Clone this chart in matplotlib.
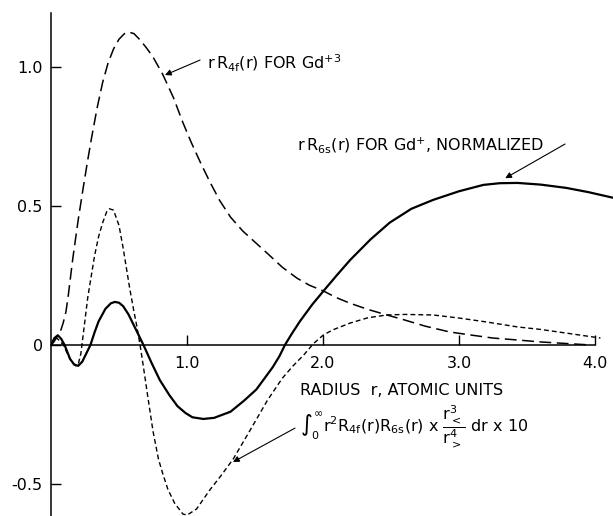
import numpy as np
import matplotlib
matplotlib.use("Agg")
from matplotlib import pyplot as plt

# rR4f(r) for Gd+3 (long dashes)
r4f_x = [0.00, 0.02, 0.045, 0.07, 0.09, 0.11, 0.125, 0.14, 0.16, 0.18, 0.20, 0.235,
         0.27, 0.30, 0.34, 0.38, 0.42, 0.46, 0.50, 0.54, 0.57, 0.61, 0.65, 0.70,
         0.75, 0.82, 0.90, 0.97, 1.03, 1.10, 1.17, 1.24, 1.32, 1.41, 1.50, 1.59,
         1.70, 1.81, 1.90, 2.00, 2.10, 2.20, 2.33, 2.47, 2.60, 2.75, 2.93, 3.10,
         3.25, 3.43, 3.60, 3.80, 3.97]
r4f_y = [0.00, 0.01, 0.03, 0.05, 0.08, 0.12, 0.17, 0.23, 0.31, 0.38, 0.45, 0.56,
         0.665, 0.75, 0.855, 0.945, 1.015, 1.065, 1.10, 1.12, 1.126, 1.12, 1.10, 1.07,
         1.036, 0.975, 0.89, 0.80, 0.73, 0.655, 0.585, 0.52, 0.46, 0.41, 0.37, 0.33,
         0.28, 0.24, 0.215, 0.195, 0.17, 0.15, 0.128, 0.108, 0.09, 0.068, 0.047, 0.035,
         0.025, 0.018, 0.011, 0.005, 0.0]

# rR6s(r) for Gd+, normalized (solid)
r6s_x = [0.00, 0.025, 0.05, 0.075, 0.10, 0.12, 0.14, 0.17, 0.20, 0.23, 0.26, 0.29,
         0.32, 0.35, 0.40, 0.44, 0.47, 0.50, 0.53, 0.57, 0.60, 0.64, 0.68, 0.74,
         0.80, 0.87, 0.93, 0.99, 1.04, 1.12, 1.20, 1.32, 1.42, 1.51, 1.57, 1.63,
         1.68, 1.72, 1.77, 1.83, 1.92, 2.01, 2.10, 2.20, 2.35, 2.49, 2.65, 2.81,
         3.00, 3.18, 3.30, 3.43, 3.60, 3.79, 3.95, 4.13]
r6s_y = [0.00, 0.025, 0.035, 0.022, 0.00, -0.025, -0.05, -0.07, -0.075, -0.06, -0.03, 0.00,
         0.045, 0.085, 0.13, 0.15, 0.155, 0.152, 0.14, 0.11, 0.08, 0.04, 0.00, -0.065,
         -0.126, -0.18, -0.22, -0.245, -0.26, -0.266, -0.262, -0.24, -0.20, -0.16, -0.12, -0.08,
         -0.04, 0.00, 0.04, 0.085, 0.145, 0.198, 0.25, 0.306, 0.38, 0.44, 0.49, 0.522,
         0.553, 0.576, 0.582, 0.583, 0.577, 0.565, 0.55, 0.53]

# integral x 10 (short dashes)
int_x = [0.00, 0.02, 0.04, 0.065, 0.09, 0.12, 0.15, 0.18, 0.20, 0.22, 0.235, 0.25,
         0.27, 0.30, 0.32, 0.35, 0.38, 0.41, 0.43, 0.46, 0.50, 0.53, 0.56, 0.58,
         0.61, 0.63, 0.655, 0.68, 0.71, 0.75, 0.79, 0.82, 0.86, 0.91, 0.97, 1.00,
         1.07, 1.17, 1.25, 1.34, 1.46, 1.59, 1.70, 1.78, 1.86, 1.93, 2.00, 2.07,
         2.20, 2.33, 2.47, 2.60, 2.81, 3.00, 3.20, 3.43, 3.60, 3.80, 4.04]
int_y = [0.00, 0.02, 0.025, 0.015, 0.00, -0.03, -0.06, -0.075, -0.07, -0.03, 0.03, 0.09,
         0.17, 0.26, 0.32, 0.39, 0.44, 0.48, 0.49, 0.485, 0.43, 0.35, 0.26, 0.20,
         0.12, 0.07, 0.00, -0.08, -0.18, -0.31, -0.41, -0.46, -0.52, -0.57, -0.608, -0.612,
         -0.59, -0.52, -0.47, -0.41, -0.31, -0.20, -0.12, -0.075, -0.035, 0.005, 0.035, 0.054,
         0.079, 0.098, 0.108, 0.11, 0.108, 0.097, 0.083, 0.065, 0.056, 0.042, 0.025]

x_ticks = [1.0, 2.0, 3.0, 4.0]
x_tick_labels = ["1.0", "2.0", "3.0", "4.0"]
y_ticks = [1.0, 0.5, 0.0, -0.5]
y_tick_labels = ["1.0", "0.5", "0", "-0.5"]

plt.rcParams["font.family"] = "DejaVu Sans"
plt.rcParams["mathtext.fontset"] = "dejavusans"
plt.rcParams["mathtext.default"] = "regular"
plt.rcParams["lines.scale_dashes"] = False

fig = plt.figure(figsize=(6.13, 5.16), dpi=100)
ax = fig.add_axes([51 / 613, 0, 562 / 613, 1])
ax.set_xlim(0, 562 / 136)
ax.set_ylim(-171 / 278, 345 / 278)

ax.plot(r4f_x, r4f_y, color="black", lw=1.1, dashes=(8.5, 4))
ax.plot(r6s_x, r6s_y, color="black", lw=1.6)
ax.plot(int_x, int_y, color="black", lw=1.0, dashes=(3.5, 2.2))

# axes through the origin
for s in ["top", "right"]:
    ax.spines[s].set_visible(False)
ax.spines["left"].set_position(("data", 0))
ax.spines["bottom"].set_position(("data", 0))
ax.spines["left"].set_bounds(-171 / 278, 332 / 278)
ax.spines["bottom"].set_bounds(0, 4.0)
ax.spines["left"].set_linewidth(1.1)
ax.spines["bottom"].set_linewidth(1.1)

ax.set_xticks(x_ticks)
ax.set_xticklabels(x_tick_labels)
ax.set_yticks(y_ticks)
ax.set_yticklabels(y_tick_labels)
ax.tick_params(axis="x", direction="in", length=7, width=1.0, pad=8, labelsize=11.5)
ax.tick_params(axis="y", direction="in", length=7, width=1.0, pad=6, labelsize=11.5)

ax.text(1.83, -0.162, "RADIUS  r, ATOMIC UNITS", fontsize=11.5, va="center", ha="left")

# labels with arrows
arrow = dict(arrowstyle="-|>", color="black", lw=0.8, mutation_scale=9, shrinkA=0, shrinkB=0)
ax.text(1.147, 1.014, r"$r\,R_{4f}(r)$ FOR Gd$^{+3}$", fontsize=11.5, va="center", ha="left")
ax.annotate("", xy=(0.838, 0.971), xytext=(1.096, 1.025), arrowprops=arrow)

ax.text(1.81, 0.72, r"$r\,R_{6s}(r)$ FOR Gd$^{+}$, NORMALIZED", fontsize=11.5, va="center", ha="left")
ax.annotate("", xy=(3.34, 0.60), xytext=(3.78, 0.723), arrowprops=arrow)

ax.text(1.83, -0.295,
        r"$\int_0^{\infty} r^2 R_{4f}(r) R_{6s}(r)$ x $\dfrac{r_<^3}{r_>^4}$ dr x 10",
        fontsize=11.5, va="center", ha="left")
ax.annotate("", xy=(1.338, -0.421), xytext=(1.794, -0.299), arrowprops=arrow)

fig.savefig("out.png", dpi=100)
